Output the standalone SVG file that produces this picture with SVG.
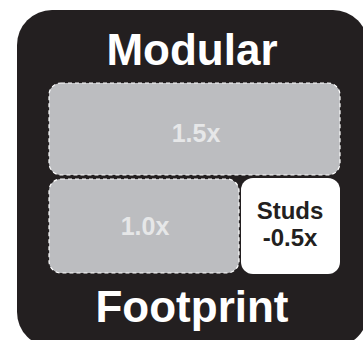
<svg xmlns="http://www.w3.org/2000/svg" width="363" height="340" viewBox="0 0 363 340">
<style>
text{font-family:"Liberation Sans",Arial,Helvetica,sans-serif;font-weight:bold;text-anchor:middle}
.title{font-size:44px;fill:#ffffff}
.zone{fill:#bcbdc0;stroke:#ffffff;stroke-width:1.2;stroke-dasharray:4 3}
.zt{font-size:25px;fill:#e6e7e8}
.st{font-size:24px;fill:#231f20}
</style>
<rect x="0" y="0" width="363" height="340" fill="#ffffff"/>
<g id="frame">
<rect x="17" y="10" width="351" height="337" rx="35" ry="35" fill="#231f20"/>
<text class="title" x="192" y="65">Modular</text>
<text class="title" x="192" y="322">Footprint</text>
</g>
<g id="zone15">
<rect class="zone" x="49" y="83" width="291" height="92" rx="12" ry="12"/>
<text class="zt" x="196" y="142">1.5x</text>
</g>
<g id="zone10">
<rect class="zone" x="49" y="179" width="190" height="94" rx="12" ry="12"/>
<text class="zt" x="145" y="235">1.0x</text>
</g>
<g id="studs">
<rect x="241" y="178" width="99" height="96" rx="12" ry="12" fill="#ffffff"/>
<text class="st" x="290" y="219">Studs</text>
<text class="st" x="290" y="246">-0.5x</text>
</g>
<g id="connectors"/>
</svg>
